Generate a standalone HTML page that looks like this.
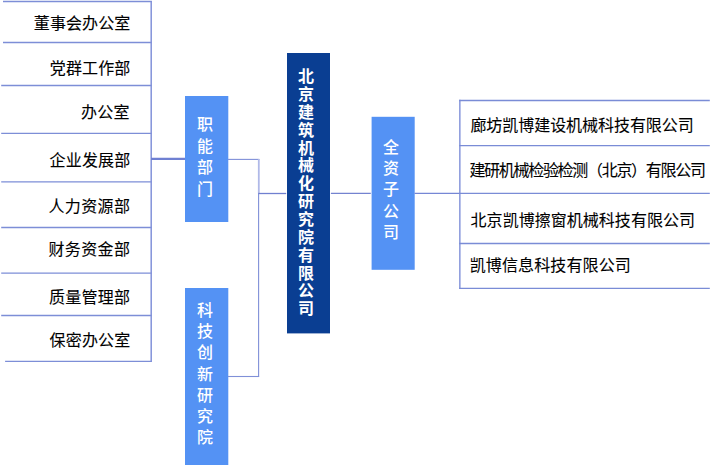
<!DOCTYPE html>
<html lang="zh-CN">
<head>
<meta charset="utf-8">
<title>组织架构</title>
<style>
html,body{margin:0;padding:0;background:#fff;}
body{width:713px;height:468px;position:relative;overflow:hidden;font-family:"Liberation Sans","Noto Sans CJK SC",sans-serif;}
svg{position:absolute;left:0;top:0;}
.t{position:absolute;font-size:16px;line-height:24px;height:24px;color:#000;white-space:nowrap;-webkit-text-stroke:0.1px #000;}
.v{position:absolute;writing-mode:vertical-rl;text-orientation:upright;font-size:16px;line-height:24px;width:24px;color:#fff;white-space:nowrap;}
.v{font-weight:500;}
.b{font-weight:bold;}
</style>
</head>
<body>
<svg width="713" height="468" viewBox="0 0 713 468">
<line x1="3.0" y1="1.55" x2="151.9" y2="1.55" stroke="#7d8ed7" stroke-width="1.4"/>
<line x1="3" y1="42.5" x2="151.9" y2="42.5" stroke="#7d8ed7" stroke-width="1.4"/>
<line x1="1.2" y1="85.5" x2="151.9" y2="85.5" stroke="#7d8ed7" stroke-width="1.4"/>
<line x1="1.2" y1="133.35" x2="151.9" y2="133.35" stroke="#7d8ed7" stroke-width="1.4"/>
<line x1="1.2" y1="181.9" x2="151.9" y2="181.9" stroke="#7d8ed7" stroke-width="1.4"/>
<line x1="1.2" y1="227.45" x2="151.9" y2="227.45" stroke="#7d8ed7" stroke-width="1.4"/>
<line x1="1.2" y1="273.1" x2="151.9" y2="273.1" stroke="#7d8ed7" stroke-width="1.4"/>
<line x1="1.2" y1="315.5" x2="151.9" y2="315.5" stroke="#7d8ed7" stroke-width="1.4"/>
<line x1="5.1" y1="361.35" x2="151.9" y2="361.35" stroke="#7d8ed7" stroke-width="1.4"/>
<line x1="151.2" y1="0.9" x2="151.2" y2="362.1" stroke="#8292da" stroke-width="1.5"/>
<line x1="151" y1="158.9" x2="185.5" y2="158.9" stroke="#6f80d2" stroke-width="2.1"/>
<rect x="185" y="96" width="43.3" height="126" fill="#5492f4"/>
<rect x="185" y="288" width="43.3" height="177" fill="#5492f4"/>
<line x1="228" y1="159.4" x2="259.3" y2="159.4" stroke="#8090d8" stroke-width="1.1"/>
<line x1="258.8" y1="159" x2="258.8" y2="193.5" stroke="#b0b9e8" stroke-width="1.8"/>
<line x1="258.6" y1="193.5" x2="258.6" y2="377" stroke="#8090d8" stroke-width="1.1"/>
<line x1="228" y1="376.5" x2="259.1" y2="376.5" stroke="#8090d8" stroke-width="1.1"/>
<line x1="258.2" y1="193.5" x2="286.2" y2="193.5" stroke="#7080d0" stroke-width="1.3"/>
<rect x="287" y="53" width="43" height="280.4" fill="#0a3e92"/>
<line x1="330.9" y1="193.4" x2="370.8" y2="193.4" stroke="#7483d0" stroke-width="1.1"/>
<rect x="371.6" y="116.8" width="43.1" height="153" fill="#5492f4"/>
<line x1="414.5" y1="193.35" x2="460" y2="193.35" stroke="#7687d5" stroke-width="1.2"/>
<line x1="459.85" y1="99.8" x2="459.85" y2="289.0" stroke="#8393da" stroke-width="1.45"/>
<line x1="459.2" y1="100.5" x2="709.8" y2="100.5" stroke="#7a8cd6" stroke-width="1.35"/>
<line x1="459.2" y1="145.55" x2="709.8" y2="145.55" stroke="#7a8cd6" stroke-width="1.35"/>
<line x1="459.2" y1="193.35" x2="709.8" y2="193.35" stroke="#7a8cd6" stroke-width="1.35"/>
<line x1="459.2" y1="243.45" x2="709.8" y2="243.45" stroke="#7a8cd6" stroke-width="1.35"/>
<line x1="459.2" y1="288.3" x2="709.8" y2="288.3" stroke="#7a8cd6" stroke-width="1.35"/>
</svg>
<div class="t l" style="right:582.6px;top:12.1px;letter-spacing:0.1px">董事会办公室</div>
<div class="t l" style="right:582.5px;top:56.5px;letter-spacing:0.15px">党群工作部</div>
<div class="t l" style="right:583.1px;top:100.8px;letter-spacing:0.3px">办公室</div>
<div class="t l" style="right:582.5px;top:148.8px;letter-spacing:0.2px">企业发展部</div>
<div class="t l" style="right:582.6px;top:194.8px;letter-spacing:0.4px">人力资源部</div>
<div class="t l" style="right:582.6px;top:238.3px;letter-spacing:0.4px">财务资金部</div>
<div class="t l" style="right:582.8px;top:285.8px;letter-spacing:0.25px">质量管理部</div>
<div class="t l" style="right:582.5px;top:329.1px;letter-spacing:0.2px">保密办公室</div>
<div class="t" style="left:470.4px;top:114.3px;letter-spacing:-0.05px">廊坊凯博建设机械科技有限公司</div>
<div class="t" style="left:469.4px;top:159.3px;letter-spacing:-1.3px">建研机械检验检测（北京）有限公司</div>
<div class="t" style="left:470.6px;top:208.8px;letter-spacing:0.03px">北京凯博擦窗机械科技有限公司</div>
<div class="t" style="left:469.7px;top:254.2px;letter-spacing:0.12px">凯博信息科技有限公司</div>
<div class="v" style="left:191.0px;top:115.7px;letter-spacing:5.50px">职能部门</div>
<div class="v" style="left:191.0px;top:301.5px;letter-spacing:5.20px">科技创新研究院</div>
<div class="v b" style="left:292.0px;top:67.5px;letter-spacing:1.86px">北京建筑机械化研究院有限公司</div>
<div class="v" style="left:377.0px;top:139.3px;letter-spacing:5.20px">全资子公司</div>
</body>
</html>
